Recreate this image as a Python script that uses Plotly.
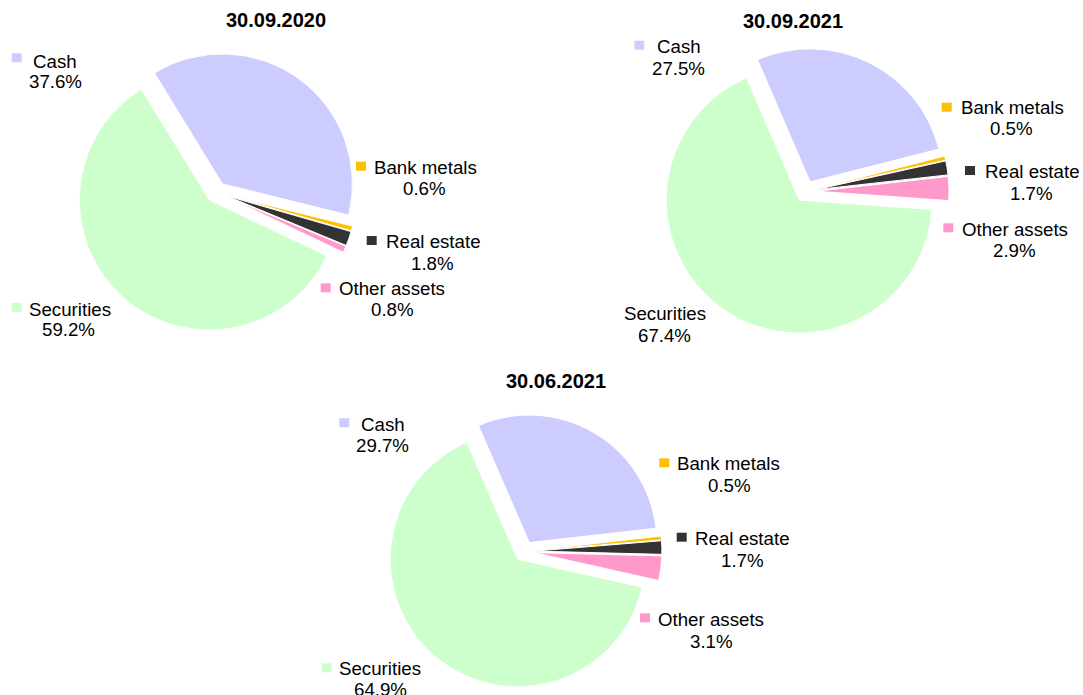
import plotly.graph_objects as go

W, H = 1083, 695

# ---------------- data ----------------
categories = ["Cash", "Bank metals", "Real estate", "Other assets", "Securities"]
pie_titles = ["30.09.2020", "30.09.2021", "30.06.2021"]
values_2020_09_30 = [37.6, 0.6, 1.8, 0.8, 59.2]
values_2021_09_30 = [27.5, 0.5, 1.7, 2.9, 67.4]
values_2021_06_30 = [29.7, 0.5, 1.7, 3.1, 64.9]
all_values = [values_2020_09_30, values_2021_09_30, values_2021_06_30]

# ---------------- styles / positions (pixels) ----------------
colors = ["#CCCCFF", "#FFC000", "#333333", "#FF99CC", "#CCFFCC"]
PULL = 0.08
FONT = "Liberation Sans, Arial, sans-serif"
LABEL_SIZE = 18.7
TITLE_SIZE = 20

pie_geom = [
    dict(cx=216.3, cy=192.3, r=130.0, rot=-31.5, title=(276.3, 20.0)),
    dict(cx=805.4, cy=191.4, r=133.0, rot=-23.3, title=(792.5, 20.8)),
    dict(cx=524.2, cy=551.4, r=127.5, rot=-23.5, title=(555.5, 380.8)),
]

# per pie, per category: name centre (x,y), percent centre (x,y), key square top-left or None
label_pos = [
    [
        (55.3, 61.0, 55.0, 81.3, (11.7, 53.3)),
        (425.8, 167.8, 425.0, 188.8, (356.0, 161.7)),
        (433.0, 241.7, 432.8, 263.0, (366.7, 236.0)),
        (392.0, 288.3, 392.0, 309.7, (320.7, 283.3)),
        (70.0, 309.7, 68.3, 330.0, (11.7, 303.0)),
    ],
    [
        (678.7, 46.3, 678.3, 68.3, (634.3, 40.7)),
        (1012.2, 107.3, 1011.2, 128.8, (941.7, 102.7)),
        (1032.0, 171.7, 1031.5, 193.0, (965.0, 166.0)),
        (1015.0, 229.3, 1014.7, 250.7, (943.3, 223.3)),
        (665.0, 314.0, 664.0, 335.5, None),
    ],
    [
        (383.3, 424.3, 382.7, 445.8, (339.3, 418.3)),
        (728.8, 463.3, 729.0, 485.0, (659.3, 458.3)),
        (742.5, 538.0, 742.8, 560.0, (676.7, 532.7)),
        (711.0, 619.0, 711.0, 641.0, (640.0, 613.3)),
        (380.0, 668.0, 380.0, 689.5, (321.7, 663.3)),
    ],
]
SQ_W, SQ_H = 10, 9


def px(x):
    return x / W


def py(y):
    return 1 - y / H


fig = go.Figure()
annotations = []
shapes = []

for i, (vals, g) in enumerate(zip(all_values, pie_geom)):
    half = g["r"] * (1 + PULL)
    fig.add_trace(go.Pie(
        labels=categories,
        values=vals,
        sort=False,
        direction="clockwise",
        rotation=g["rot"],
        pull=[PULL] * len(vals),
        marker=dict(colors=colors, line=dict(color="white", width=1)),
        textinfo="none",
        hoverinfo="label+value",
        showlegend=False,
        domain=dict(
            x=[px(g["cx"] - half), px(g["cx"] + half)],
            y=[max(0.0, py(g["cy"] + half)), min(1.0, py(g["cy"] - half))],
        ),
    ))
    tx, ty = g["title"]
    annotations.append(dict(
        text="<b>%s</b>" % pie_titles[i], x=px(tx), y=py(ty),
        xref="paper", yref="paper", xanchor="center", yanchor="middle",
        showarrow=False, font=dict(family=FONT, size=TITLE_SIZE, color="#000000"),
    ))
    for j, cat in enumerate(categories):
        nx, ny, qx, qy, sq = label_pos[i][j]
        annotations.append(dict(
            text=cat, x=px(nx), y=py(ny), xref="paper", yref="paper",
            xanchor="center", yanchor="middle", showarrow=False,
            font=dict(family=FONT, size=LABEL_SIZE, color="#000000"),
        ))
        annotations.append(dict(
            text="%.1f%%" % vals[j], x=px(qx), y=py(qy), xref="paper", yref="paper",
            xanchor="center", yanchor="middle", showarrow=False,
            font=dict(family=FONT, size=LABEL_SIZE, color="#000000"),
        ))
        if sq is not None:
            sx, sy = sq
            shapes.append(dict(
                type="rect", xref="paper", yref="paper",
                x0=px(sx), x1=px(sx + SQ_W), y0=py(sy + SQ_H), y1=py(sy),
                fillcolor=colors[j], line=dict(width=0),
            ))

fig.update_layout(
    width=W, height=H,
    margin=dict(l=0, r=0, t=0, b=0),
    paper_bgcolor="white",
    plot_bgcolor="white",
    annotations=annotations,
    shapes=shapes,
    showlegend=False,
)

# remove the browser's default 8px body margin so the figure fills the window
fig.write_html(
    "out.html",
    config={"displayModeBar": False},
    post_script="document.body.style.margin='0';document.body.style.overflow='hidden';",
)
